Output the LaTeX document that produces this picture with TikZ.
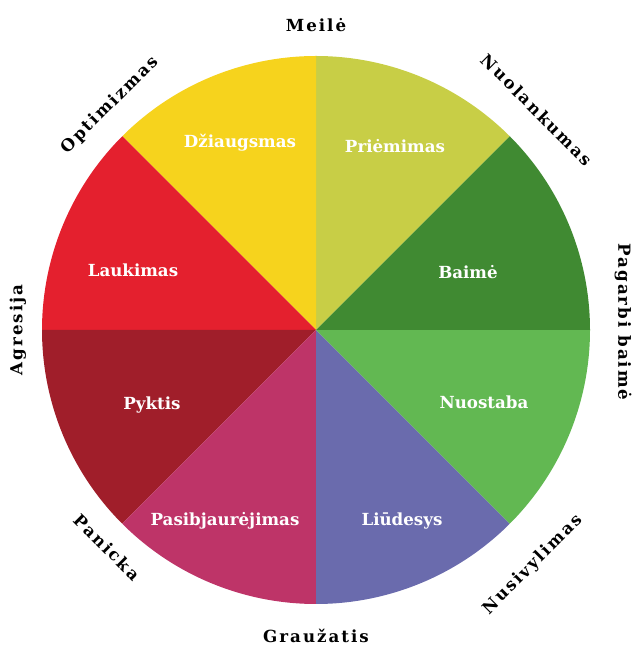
\documentclass[tikz,border=0pt]{standalone}
\usepackage{fontspec}
\setmainfont{DejaVu Serif}
\newfontfamily\rimfont[LetterSpace=12]{DejaVu Serif}
\usepackage{tikz}
\definecolor{dziaug}{RGB}{246,211,29}
\definecolor{priem}{RGB}{200,206,70}
\definecolor{baime}{RGB}{64,138,50}
\definecolor{nuostaba}{RGB}{98,184,82}
\definecolor{liudesys}{RGB}{106,107,173}
\definecolor{pasibj}{RGB}{190,52,104}
\definecolor{pyktis}{RGB}{160,30,42}
\definecolor{laukimas}{RGB}{228,32,46}

\begin{document}
\begin{tikzpicture}[x=0.75pt, y=0.75pt,
    inner/.style={text=white, font=\bfseries\fontsize{12.5}{14}\selectfont},
    rim/.style={text=black, font=\rimfont\bfseries\fontsize{12.5}{14}\selectfont}]
    \useasboundingbox (0,0) rectangle (632,646);
    \coordinate (c) at (316,316);
    \fill[priem] (c) -- +(45:205.5pt) arc (45:90:205.5pt) -- cycle;
    \fill[dziaug] (c) -- +(90:205.5pt) arc (90:135:205.5pt) -- cycle;
    \fill[laukimas] (c) -- +(135:205.5pt) arc (135:180:205.5pt) -- cycle;
    \fill[pyktis] (c) -- +(180:205.5pt) arc (180:225:205.5pt) -- cycle;
    \fill[pasibj] (c) -- +(225:205.5pt) arc (225:270:205.5pt) -- cycle;
    \fill[liudesys] (c) -- +(270:205.5pt) arc (270:315:205.5pt) -- cycle;
    \fill[nuostaba] (c) -- +(315:205.5pt) arc (315:360:205.5pt) -- cycle;
    \fill[baime] (c) -- +(0:205.5pt) arc (0:45:205.5pt) -- cycle;

    \node[inner] (dziaugsmas) at (240,503) {Džiaugsmas};
    \node[inner] (priemimas) at (395,500) {Priėmimas};
    \node[inner] (laukimasl) at (133,376) {Laukimas};
    \node[inner] (baimel) at (468,374) {Baimė};
    \node[inner] (pyktisl) at (152,241) {Pyktis};
    \node[inner] (nuostabal) at (484,244) {Nuostaba};
    \node[inner] (pasibjaurejimas) at (225,125) {Pasibjaurėjimas};
    \node[inner] (liudesysl) at (402,125) {Liūdesys};

    \node[rim] (meile) at (316,621) {Meilė};
    \node[rim, rotate=-45] (nuolankumas) at (537,536) {Nuolankumas};
    \node[rim, rotate=-90] (pagarbi) at (623,324) {Pagarbi baimė};
    \node[rim, rotate=45] (nusivylimas) at (533,81) {Nusivylimas};
    \node[rim] (grauzatis) at (316,10) {Graužatis};
    \node[rim, rotate=-45] (panicka) at (107,99) {Panicka};
    \node[rim, rotate=90] (agresija) at (18,316) {Agresija};
    \node[rim, rotate=45] (optimizmas) at (110,541) {Optimizmas};
  \end{tikzpicture}
\end{document}
